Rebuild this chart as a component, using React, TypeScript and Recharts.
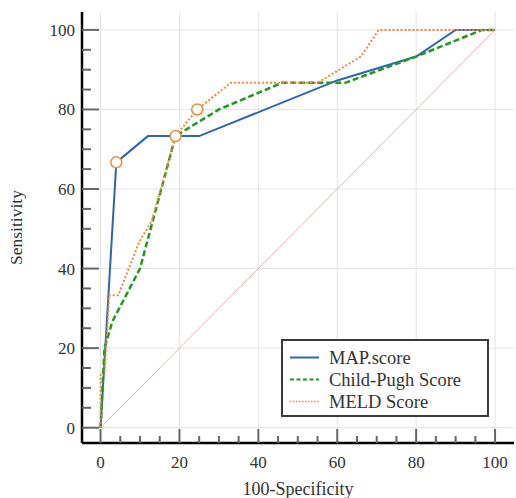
import React from 'react';
import { ComposedChart, Line, XAxis, YAxis, ReferenceLine, Legend } from 'recharts';

// ROC curves: x = 100-Specificity, y = Sensitivity
const mapX = [0, 4, 12, 25, 60, 80, 90, 100];
const mapY = [0, 66.7, 73.3, 73.3, 87.3, 93.3, 100, 100];

const cpX = [0, 1, 3, 10, 19, 30, 46, 62, 80, 96.7, 100];
const cpY = [0, 20, 26.7, 40, 73.3, 80, 86.7, 86.7, 93.3, 100, 100];

const meldX = [0, 0, 1, 2.2, 4.5, 9.8, 13, 19, 24.5, 33, 55, 66, 70.5, 100];
const meldY = [0, 13.3, 13.3, 33.3, 33.3, 46.7, 52, 73.3, 80, 86.7, 86.7, 93.3, 100, 100];

// optimal cut-off markers
const markX = [4, 19, 24.5];
const markY = [66.7, 73.3, 80];

const tickValues = [0, 5, 10, 15, 20, 25, 30, 35, 40, 45, 50, 55, 60, 65, 70, 75, 80, 85, 90, 95, 100];
const gridValues = [0, 20, 40, 60, 80, 100];

const seriesNames = ['MAP.score', 'Child-Pugh Score', 'MELD Score'];

const toPts = (xs: number[], ys: number[]) => xs.map((x, i) => ({ x, y: ys[i] }));
const mapData = toPts(mapX, mapY);
const cpData = toPts(cpX, cpY);
const meldData = toPts(meldX, meldY);
const markData = toPts(markX, markY);

const FONT = '"Liberation Serif", "Times New Roman", serif';
const TEXT = '#333';
const BLUE = '#2e65b0';
const GREEN = '#1f9a1f';
const ORANGE = '#f3873a';
const TICK = '#666';

const XTick = (props: any) => {
  const { x, y, payload } = props;
  const v = payload.value;
  const major = v % 20 === 0;
  return (
    <g>
      <line x1={x} x2={x} y1={y} y2={y - (major ? 14 : 7)} stroke={TICK} strokeWidth={2} />
      {major && (
        <text x={x} y={y + 25} textAnchor="middle" fill={TEXT} fontSize={17} fontFamily={FONT}>
          {v}
        </text>
      )}
    </g>
  );
};

const YTick = (props: any) => {
  const { x, y, payload } = props;
  const v = payload.value;
  const major = v % 20 === 0;
  return (
    <g>
      <line x1={x} x2={x + (major ? 17 : 9)} y1={y} y2={y} stroke={TICK} strokeWidth={2} />
      {major && (
        <text x={x - 7} y={y + 6} textAnchor="end" fill={TEXT} fontSize={17} fontFamily={FONT}>
          {v}
        </text>
      )}
    </g>
  );
};

const LegendBox = () => {
  const rows = [
    { name: seriesNames[0], color: BLUE, dash: undefined, w: 2 },
    { name: seriesNames[1], color: GREEN, dash: '4 2.5', w: 2 },
    { name: seriesNames[2], color: ORANGE, dash: '1.5 1.5', w: 1.5 },
  ];
  return (
    <svg width={208} height={78} style={{ display: 'block' }}>
      <rect x={1} y={1} width={206} height={76} fill="#fff" stroke="#3a3a3a" strokeWidth={2} />
      {rows.map((r, i) => {
        const cy = 18.5 + i * 22;
        return (
          <g key={r.name}>
            <line x1={9} x2={38} y1={cy} y2={cy} stroke={r.color} strokeWidth={r.w} strokeDasharray={r.dash} />
            <text x={48} y={cy + 6} fill={TEXT} fontSize={18.5} fontFamily={FONT}>
              {r.name}
            </text>
          </g>
        );
      })}
    </svg>
  );
};

const YLabel = (props: any) => {
  const vb = props.viewBox || { x: 0, y: 12, width: 82, height: 431 };
  const cx = vb.x + 22;
  const cy = vb.y + vb.height / 2;
  return (
    <text x={cx} y={cy} transform={`rotate(-90 ${cx} ${cy})`} textAnchor="middle" fill={TEXT} fontSize={17.5} fontFamily={FONT}>
      Sensitivity
    </text>
  );
};

export default function App() {
  return (
    <div style={{ position: 'absolute', left: 0, top: 0, width: 516, height: 498, background: '#fff' }}>
      <ComposedChart width={516} height={498} margin={{ top: 12, right: 2, bottom: 0, left: 0 }}>
        <XAxis
          dataKey="x"
          type="number"
          domain={[-4.7, 104.8]}
          ticks={tickValues}
          interval={0}
          tickSize={0}
          tickMargin={0}
          height={55}
          axisLine={{ stroke: '#000', strokeWidth: 2.5 }}
          tickLine={false}
          tick={<XTick />}
          allowDataOverflow
          label={{ value: '100-Specificity', position: 'insideBottom', offset: 3, fill: TEXT, fontSize: 18, fontFamily: FONT }}
        />
        <YAxis
          dataKey="y"
          type="number"
          domain={[-3.85, 104.5]}
          ticks={tickValues}
          interval={0}
          tickSize={0}
          tickMargin={0}
          width={82}
          axisLine={{ stroke: '#000', strokeWidth: 2.5 }}
          tickLine={false}
          tick={<YTick />}
          allowDataOverflow
          label={{ position: 'insideLeft', content: (p: any) => <YLabel {...p} /> }}
        />
        {gridValues.map((g) => (
          <ReferenceLine key={'gx' + g} x={g} stroke="#e4e4e4" strokeWidth={1} />
        ))}
        {gridValues.map((g) => (
          <ReferenceLine key={'gy' + g} y={g} stroke="#e4e4e4" strokeWidth={1} />
        ))}
        <ReferenceLine
          segment={[
            { x: 0, y: 0 },
            { x: 100, y: 100 },
          ]}
          stroke="#e6b3aa"
          strokeWidth={1}
        />
        <Line data={mapData} dataKey="y" name={seriesNames[0]} stroke={BLUE} strokeWidth={2} dot={false} isAnimationActive={false} type="linear" />
        <Line data={cpData} dataKey="y" name={seriesNames[1]} stroke={GREEN} strokeWidth={2.5} strokeDasharray="6 3" dot={false} isAnimationActive={false} type="linear" />
        <Line data={meldData} dataKey="y" name={seriesNames[2]} stroke={ORANGE} strokeWidth={2} strokeDasharray="2 2" dot={false} isAnimationActive={false} type="linear" />
        <Line
          data={markData}
          dataKey="y"
          stroke="none"
          legendType="none"
          dot={{ r: 5.5, fill: '#fff', stroke: ORANGE, strokeWidth: 1.5 }}
          isAnimationActive={false}
        />
        <Legend
          layout="horizontal"
          verticalAlign="middle"
          align="center"
          content={() => <LegendBox />}
          wrapperStyle={{ position: 'absolute', left: 281, top: 339, width: 208, height: 78 }}
        />
      </ComposedChart>
    </div>
  );
}
